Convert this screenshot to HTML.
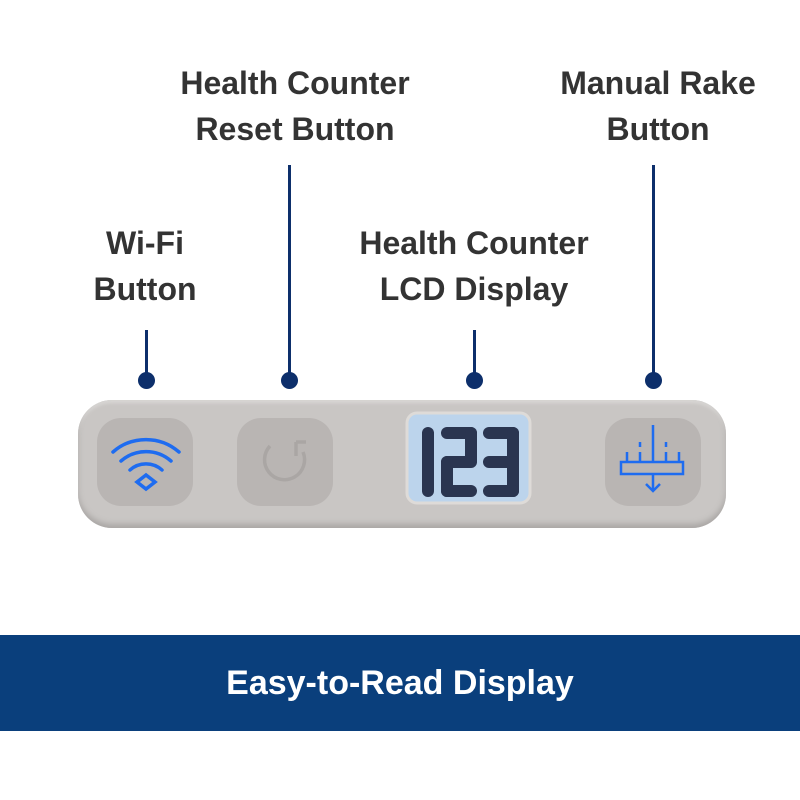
<!DOCTYPE html>
<html><head><style>
body{margin:0;width:800px;height:800px;background:#fff;position:relative;overflow:hidden;font-family:"Liberation Sans",sans-serif}
.t{position:absolute;font-weight:bold;font-size:32px;color:#333;text-align:center;line-height:46px;white-space:nowrap;transform:translateX(-50%)}
.l{position:absolute;width:3px;background:#0d2f6b}
.d{position:absolute;width:17px;height:17px;border-radius:50%;background:#0d2f6b}
.btn{position:absolute;background:#b9b5b3;border-radius:24px;top:418px;height:88px;width:96px}
</style></head><body>
<div class="t" style="left:295px;top:60px">Health Counter<br>Reset Button</div>
<div class="t" style="left:658px;top:60px">Manual Rake<br>Button</div>
<div class="t" style="left:145px;top:220px">Wi-Fi<br>Button</div>
<div class="t" style="left:474px;top:220px">Health Counter<br>LCD Display</div>

<div class="l" style="left:145px;top:330px;height:50px"></div><div class="d" style="left:138px;top:372px"></div>
<div class="l" style="left:288px;top:165px;height:215px"></div><div class="d" style="left:281px;top:372px"></div>
<div class="l" style="left:473px;top:330px;height:50px"></div><div class="d" style="left:466px;top:372px"></div>
<div class="l" style="left:652px;top:165px;height:215px"></div><div class="d" style="left:645px;top:372px"></div>

<div style="position:absolute;left:78px;top:400px;width:648px;height:128px;border-radius:34px;background:#c9c6c4;box-shadow:inset 0 -4px 6px #aaa7a5,inset 0 3px 3px #dad8d6"></div>
<div class="btn" style="left:97px"></div>
<div class="btn" style="left:237px"></div>
<div class="btn" style="left:605px"></div>
<svg style="position:absolute;left:0;top:0" width="800" height="800">
<g fill="none" stroke="#1e6cf0" stroke-width="3.5" stroke-linecap="round">
<path d="M113 452 A50 50 0 0 1 179 452"/>
<path d="M121 461 A38 38 0 0 1 171 461"/>
<path d="M130 470 A24 24 0 0 1 162 470"/>
<path d="M146 475 L137 482 L146 489 L155 482 Z"/>
</g>
<g fill="none" stroke="#aaa6a4" stroke-width="3.5">
<path d="M270 446 A20 20 0 1 0 303 452"/><path d="M296 442 V456 M296 442 H306"/>
</g>
<rect x="407" y="413" width="123" height="90" rx="10" fill="#bcd4ec" stroke="#dedbd8" stroke-width="3"/>
<g fill="#2a3550">
<rect x="422" y="427" width="12" height="70" rx="6"/>
<rect x="441" y="427" width="36" height="12" rx="6"/><rect x="465" y="427" width="12" height="40" rx="6"/>
<rect x="441" y="456" width="36" height="12" rx="6"/><rect x="441" y="456" width="12" height="41" rx="6"/>
<rect x="441" y="485" width="36" height="12" rx="6"/>
<rect x="483" y="427" width="36" height="12" rx="6"/><rect x="507" y="427" width="12" height="70" rx="6"/>
<rect x="483" y="456" width="36" height="12" rx="6"/><rect x="483" y="485" width="36" height="12" rx="6"/>
</g>
<g fill="none" stroke="#1e6cf0" stroke-width="2.5">
<rect x="621" y="462" width="62" height="12"/>
<path d="M627 462V452 M640 462V452 M653 462V425 M666 462V452 M679 462V452 M653 474V490 M646 484 L653 491 L660 484"/>
<path d="M640 442V447 M666 442V447" />
</g>
</svg>
<div style="position:absolute;left:0;top:635px;width:800px;height:96px;background:#0a3f7c;color:#fff;font-weight:bold;font-size:34px;text-align:center;line-height:96px">Easy-to-Read Display</div>
</body></html>
